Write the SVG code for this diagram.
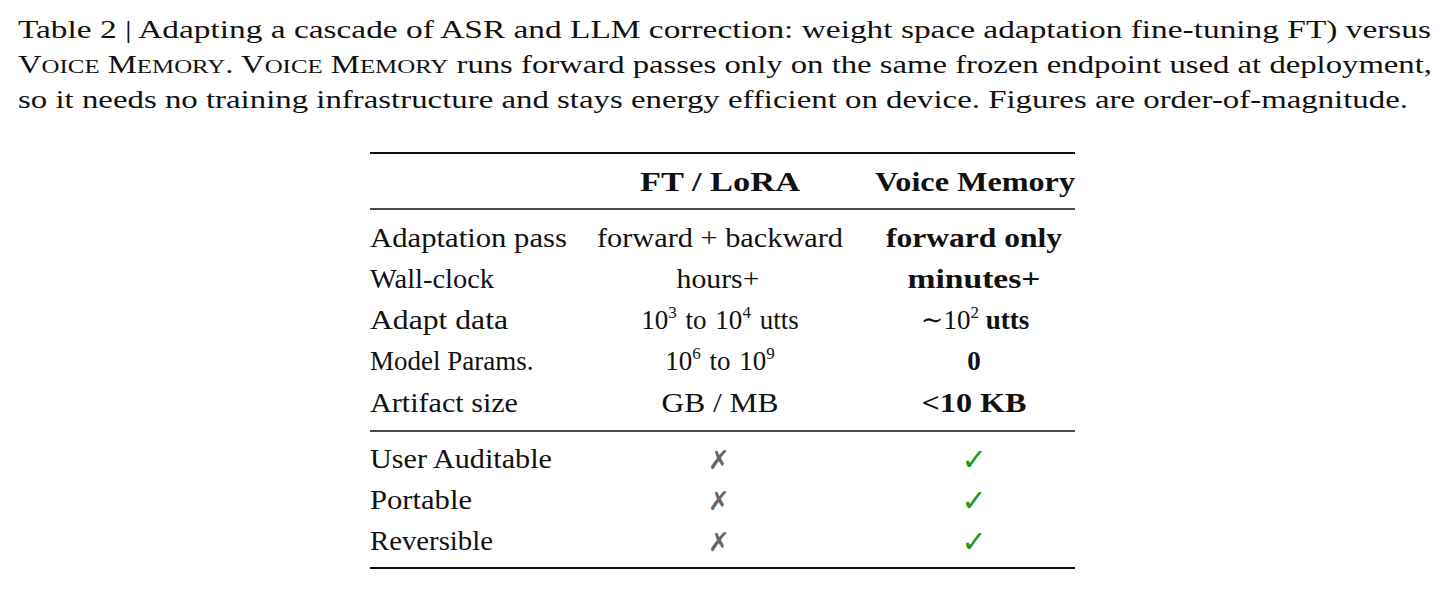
<svg xmlns="http://www.w3.org/2000/svg" width="1449" height="589" viewBox="0 0 1449 589">
<style>
text{font-family:"Liberation Serif","DejaVu Serif",serif;font-size:25px;fill:#111}
.t{font-size:27px}
.sc{font-size:19px}
.b{font-weight:bold}
.m{text-anchor:middle}
.sup{font-size:17px}
.x{font-family:"DejaVu Sans",sans-serif;fill:#666;font-size:26px}
.ck{font-family:"DejaVu Sans",sans-serif;fill:#1a9a1a;font-size:30px;font-weight:bold}
</style>
<rect width="1449" height="589" fill="#fff"/>
<g id="caption">
<text x="18" y="38" textLength="1413" lengthAdjust="spacingAndGlyphs">Table 2 | Adapting a cascade of ASR and LLM correction: weight space adaptation fine-tuning FT) versus</text>
<text x="18" y="73" textLength="1414" lengthAdjust="spacingAndGlyphs">V<tspan class="sc">OICE</tspan> M<tspan class="sc">EMORY</tspan>. V<tspan class="sc">OICE</tspan> M<tspan class="sc">EMORY</tspan> runs forward passes only on the same frozen endpoint used at deployment,</text>
<text x="18" y="108" textLength="1390" lengthAdjust="spacingAndGlyphs">so it needs no training infrastructure and stays energy efficient on device. Figures are order-of-magnitude.</text>
</g>
<g id="rules" stroke="#111">
<line x1="370" y1="153" x2="1075" y2="153" stroke-width="2.2"/>
<line x1="370" y1="209" x2="1075" y2="209" stroke-width="1.3"/>
<line x1="370" y1="431" x2="1075" y2="431" stroke-width="1.3"/>
<line x1="370" y1="568" x2="1075" y2="568" stroke-width="2.2"/>
</g>
<g id="header">
<text class="t b m" x="720" y="191" textLength="160" lengthAdjust="spacingAndGlyphs">FT / LoRA</text>
<text class="t b m" x="975" y="191" textLength="200" lengthAdjust="spacingAndGlyphs">Voice Memory</text>
</g>
<g id="rows" class="t">
<text class="t" x="370" y="247" textLength="197" lengthAdjust="spacingAndGlyphs">Adaptation pass</text>
<text class="t m" x="720" y="247" textLength="246" lengthAdjust="spacingAndGlyphs">forward + backward</text>
<text class="t m b" x="974" y="247" textLength="176" lengthAdjust="spacingAndGlyphs">forward only</text>
<text class="t" x="370" y="288" textLength="124" lengthAdjust="spacingAndGlyphs">Wall-clock</text>
<text class="t m" x="718" y="288" textLength="83" lengthAdjust="spacingAndGlyphs">hours+</text>
<text class="t m b" x="974" y="288" textLength="133" lengthAdjust="spacingAndGlyphs">minutes+</text>
<text class="t" x="370" y="329" textLength="138" lengthAdjust="spacingAndGlyphs">Adapt data</text>
<text class="t m" x="720" y="329" word-spacing="2">10<tspan class="sup" dy="-11">3</tspan><tspan dy="11"> to 10</tspan><tspan class="sup" dy="-11">4</tspan><tspan dy="11"> utts</tspan></text>
<text class="t m" x="975" y="329">∼10<tspan class="sup" dy="-11">2</tspan><tspan dy="11" class="b"> utts</tspan></text>
<text class="t" x="370" y="370">Model Params.</text>
<text class="t m" x="720" y="370" word-spacing="2">10<tspan class="sup" dy="-11">6</tspan><tspan dy="11"> to 10</tspan><tspan class="sup" dy="-11">9</tspan></text>
<text class="t m b" x="974" y="370">0</text>
<text class="t" x="370" y="412" textLength="148" lengthAdjust="spacingAndGlyphs">Artifact size</text>
<text class="t m" x="720" y="412" textLength="117" lengthAdjust="spacingAndGlyphs">GB / MB</text>
<text class="t m b" x="974" y="412" textLength="105" lengthAdjust="spacingAndGlyphs">&lt;10 KB</text>
<text class="t" x="370" y="468" textLength="182" lengthAdjust="spacingAndGlyphs">User Auditable</text>
<text class="x m" x="719" y="469">✗</text>
<text class="ck m" x="974" y="470">✓</text>
<text class="t" x="370" y="509" textLength="102" lengthAdjust="spacingAndGlyphs">Portable</text>
<text class="x m" x="719" y="510">✗</text>
<text class="ck m" x="974" y="511">✓</text>
<text class="t" x="370" y="550" textLength="123" lengthAdjust="spacingAndGlyphs">Reversible</text>
<text class="x m" x="719" y="551">✗</text>
<text class="ck m" x="974" y="552">✓</text>
</g>
</svg>
